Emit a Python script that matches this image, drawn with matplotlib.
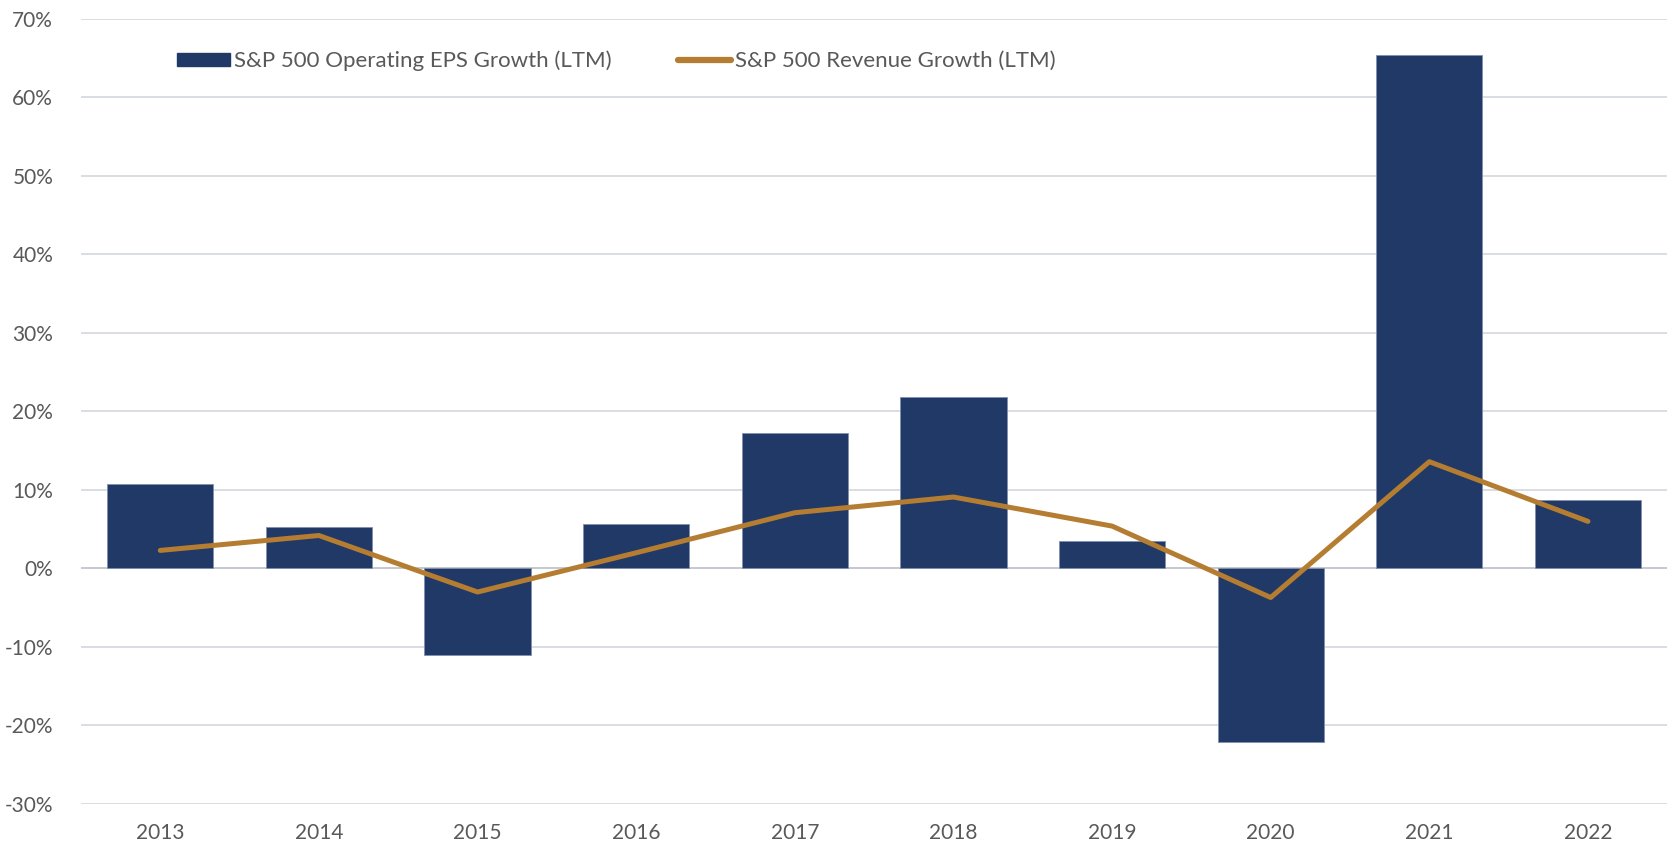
import matplotlib
matplotlib.use("Agg")
import matplotlib.pyplot as plt
import numpy as np
from matplotlib.ticker import FuncFormatter, MultipleLocator
from matplotlib.patches import Patch
from matplotlib.lines import Line2D

years = ["2013", "2014", "2015", "2016", "2017", "2018", "2019", "2020", "2021", "2022"]
eps_growth = [10.8, 5.3, -11.0, 5.7, 17.2, 21.8, 3.5, -22.1, 65.4, 8.7]
revenue_growth = [2.3, 4.2, -3.0, 2.0, 7.1, 9.1, 5.4, -3.7, 13.6, 6.0]

bar_label = "S&P 500 Operating EPS Growth (LTM)"
line_label = "S&P 500 Revenue Growth (LTM)"

navy = "#213966"
gold = "#B57D31"
text_gray = "#595959"
grid_gray = "#D3D7DC"

plt.rcParams['font.family'] = ['Lato', 'DejaVu Sans']

fig = plt.figure(figsize=(16.76, 8.43), dpi=100)
ax = fig.add_axes([0.0483, 0.0463, 0.9465, 0.9312])

x = np.arange(len(years))
ax.bar(x, eps_growth, width=0.67, color=navy, edgecolor="#8090AE", linewidth=0.6, zorder=2)
ax.plot(x, revenue_growth, color=gold, linewidth=3.6, solid_capstyle="round",
        solid_joinstyle="round", zorder=3)

ax.set_xlim(-0.5, len(years) - 0.5)
ax.set_ylim(-30, 70)
ax.yaxis.set_major_locator(MultipleLocator(10))
ax.yaxis.set_major_formatter(FuncFormatter(lambda v, p: f"{v:.0f}%"))
ax.set_xticks(x)
ax.set_xticklabels(years)

ax.grid(axis="y", color=grid_gray, linewidth=1.2, zorder=0)
ax.axhline(0, color="#6E6E6E", linewidth=1.2, zorder=1)
for s in ax.spines.values():
    s.set_visible(False)
ax.tick_params(axis="both", length=0, labelsize=15, colors=text_gray)
ax.tick_params(axis="y", pad=20)
ax.tick_params(axis="x", pad=14)

handles = [Patch(facecolor=navy, edgecolor=navy),
           Line2D([0], [0], color=gold, linewidth=4.5, solid_capstyle="round")]
leg = ax.legend(handles, [bar_label, line_label], loc="upper left",
                bbox_to_anchor=(0.048, 0.985), ncol=2, frameon=False,
                fontsize=16, labelcolor=text_gray, handlelength=2.4,
                handleheight=0.5, handletextpad=0.15, columnspacing=3.0)

fig.savefig("out.png", dpi=100, facecolor="white")
